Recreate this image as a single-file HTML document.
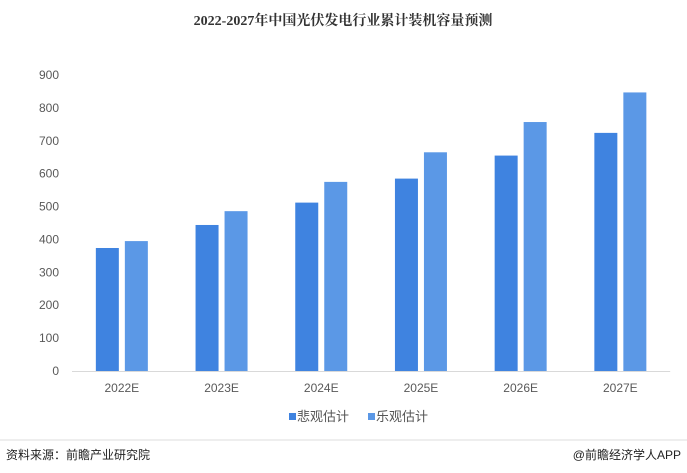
<!DOCTYPE html>
<html><head><meta charset="utf-8"><style>
body{margin:0;background:#fff;font-family:"Liberation Sans","Noto Sans CJK SC",sans-serif;}
#wrap{position:relative;width:687px;height:473px;overflow:hidden;}
</style></head><body>
<div id="wrap">
<svg id="chart" width="687" height="473">
<text x="343" y="25" text-anchor="middle" font-size="14" font-weight="bold" fill="#333" font-family="Liberation Serif, Noto Serif CJK SC, serif">2022-2027年中国光伏发电行业累计装机容量预测</text>
<g id="yaxis"></g><g id="bars"></g><g id="xaxis"></g>
<rect x="289" y="413" width="7" height="7" fill="#3f83e0"/>
<text x="297" y="421" font-size="13" fill="#555">悲观估计</text>
<rect x="368" y="413" width="7" height="7" fill="#5b98e6"/>
<text x="376" y="421" font-size="13" fill="#555">乐观估计</text>
<line x1="0" y1="440" x2="687" y2="440" stroke="#ddd" stroke-width="1"/>
<text x="6" y="459" font-size="12" fill="#222">资料来源：前瞻产业研究院</text>
<text x="681" y="459" text-anchor="end" font-size="12" fill="#222">@前瞻经济学人APP</text>
</svg>
</div>
<script>
const categories=["2022E","2023E","2024E","2025E","2026E","2027E"];
const pessimistic=[374,444,512,585,655,724];
const optimistic=[395,486,575,665,757,847];
const yTicks=[0,100,200,300,400,500,600,700,800,900];
const NS="http://www.w3.org/2000/svg";
const x0=72,catW=99.7,y0=371,yMax=900,plotH=296;
function y(v){return y0-v/yMax*plotH;}
function cx(i){return x0+catW*(i+0.5);}
function mk(tag,attrs,parent){const e=document.createElementNS(NS,tag);for(const k in attrs)e.setAttribute(k,attrs[k]);parent.appendChild(e);return e;}
const ya=document.getElementById('yaxis'),ba=document.getElementById('bars'),xa=document.getElementById('xaxis');
yTicks.forEach(t=>{const e=mk('text',{x:59,y:y(t)+4,'text-anchor':'end','font-size':12,fill:'#595959'},ya);e.textContent=t;

});
const ax=mk('line',{x1:x0,x2:x0+catW*6,y1:y0+0.5,y2:y0+0.5,stroke:'#d9d9d9'},xa);


categories.forEach((c,i)=>{
const b1=mk('rect',{x:cx(i)-26,y:y(pessimistic[i]),width:23,height:y0-y(pessimistic[i]),fill:'#3f83e0'},ba);


const b2=mk('rect',{x:cx(i)+3,y:y(optimistic[i]),width:23,height:y0-y(optimistic[i]),fill:'#5b98e6'},ba);


const t=mk('text',{x:cx(i),y:392,'text-anchor':'middle','font-size':12,fill:'#595959'},xa);t.textContent=c;


});
</script>
</body></html>
